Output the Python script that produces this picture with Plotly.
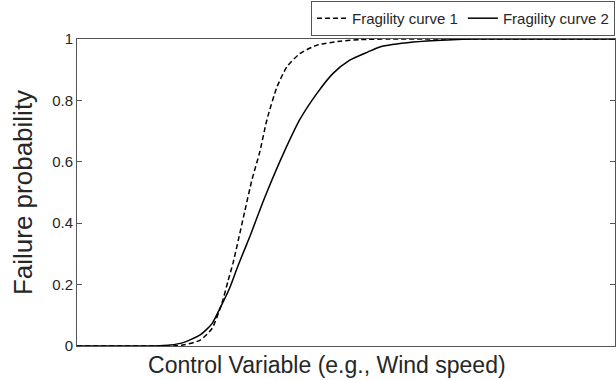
import plotly.graph_objects as go

# Control variable (arbitrary units, 0-100 across the axis)
x_curve1 = [0.0, 13.6, 17.3, 19.7, 22.9, 25.1, 27.0, 28.1, 29.0, 31.2, 32.5, 34.0,
            35.3, 37.2, 39.0, 41.4, 44.6, 48.9, 52.6, 58.2, 100.0]
p_curve1 = [0.0, 0.0, 0.0, 0.003, 0.019, 0.057, 0.143, 0.214, 0.27, 0.44, 0.54, 0.634,
            0.737, 0.845, 0.909, 0.952, 0.98, 0.993, 0.998, 1.0, 1.0]

x_curve2 = [0.0, 11.7, 15.4, 17.3, 19.7, 22.9, 25.1, 27.0, 28.4, 29.7, 30.3, 32.2,
            34.4, 35.5, 38.3, 41.4, 44.6, 47.6, 50.7, 54.1, 56.3, 62.5, 68.8, 74.9, 100.0]
p_curve2 = [0.0, 0.0, 0.001, 0.003, 0.011, 0.036, 0.073, 0.138, 0.19, 0.251, 0.278, 0.36,
            0.462, 0.51, 0.624, 0.737, 0.823, 0.888, 0.931, 0.958, 0.974, 0.990, 0.997, 1.0, 1.0]

y_ticks = [0, 0.2, 0.4, 0.6, 0.8, 1]
y_ticklabels = ["0", "0.2", "0.4", "0.6", "0.8", "1"]

font_family = "Liberation Sans, Arial, sans-serif"
text_color = "#262626"
axis_color = "#555555"

fig = go.Figure()
fig.add_trace(go.Scatter(x=x_curve1, y=p_curve1, mode="lines", name="Fragility curve 1",
                         line=dict(color="black", width=1.5, dash="5px,3px", shape="spline", smoothing=0.6)))
fig.add_trace(go.Scatter(x=x_curve2, y=p_curve2, mode="lines", name="Fragility curve 2",
                         line=dict(color="black", width=1.5, shape="spline", smoothing=0.6)))

fig.update_layout(
    width=616, height=380,
    margin=dict(l=77, r=1, t=37, b=34),
    paper_bgcolor="white", plot_bgcolor="white",
    font=dict(family=font_family, color=text_color),
    showlegend=True,
    legend=dict(orientation="h", x=1, xanchor="right", y=1.01, yanchor="bottom",
                bordercolor="#555555", borderwidth=1, bgcolor="white",
                font=dict(size=15, color=text_color, family=font_family),
                itemwidth=30, tracegroupgap=0),
    xaxis=dict(range=[0, 100], showticklabels=False, ticks="", showgrid=False, zeroline=False,
               showline=True, linecolor=axis_color, linewidth=1, mirror=True,
               title=dict(text="Control Variable (e.g., Wind speed)" + "&nbsp;" * 6,
                          font=dict(size=23, color=text_color), standoff=10)),
    yaxis=dict(range=[0, 1], tickvals=y_ticks, ticktext=y_ticklabels, ticks="inside", ticklen=5,
               tickcolor=axis_color, showgrid=False, zeroline=False,
               showline=True, linecolor=axis_color, linewidth=1, mirror="ticks",
               tickfont=dict(size=15, color=text_color),
               title=dict(text="Failure probability", font=dict(size=26, color=text_color), standoff=12)),
)

fig.write_html("out.html")
